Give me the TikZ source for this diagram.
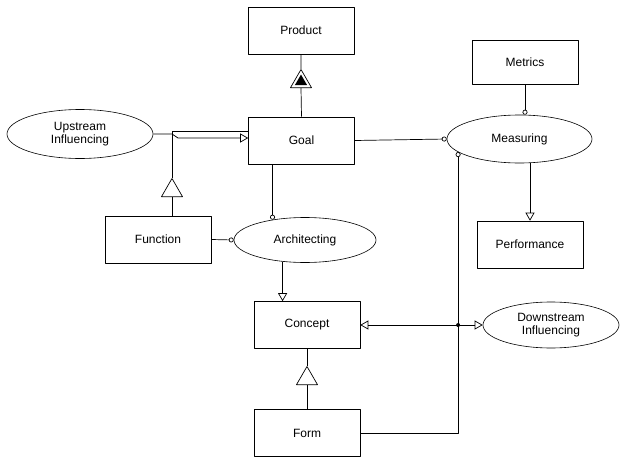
\documentclass[tikz,border=0pt]{standalone}
\usepackage{fontspec}
\setmainfont{Liberation Sans}
\usetikzlibrary{arrows.meta,shapes.geometric,calc}
\tikzset{rtip/.tip={Triangle[open, length=8pt, width=9pt]}, atip/.tip={Circle[open, length=5pt, width=5pt]}}
\begin{document}
\begin{tikzpicture}[x=1pt, y=-1pt, line join=round, line width=0.7pt, font=\fontsize{12}{13.5}\selectfont,
	thing/.style={draw, line width=0.6pt, minimum width=106pt, minimum height=47pt, inner sep=0pt},
	proc/.style={draw, line width=0.6pt, ellipse, inner sep=0pt, align=center},
	gentri/.style={draw, fill=white, isosceles triangle, isosceles triangle apex angle=60, shape border rotate=90, minimum height=18pt, minimum width=21pt, inner sep=0pt, anchor=lower side},
	result/.style={-rtip}, agent/.style={-atip}]
	\useasboundingbox (0,0) rectangle (622,458);
	\node[thing] (product) at (301,30.5) {Product};
	\node[thing] (goal) at (301.5,140.5) {Goal};
	\node[thing, minimum height=44pt] (metrics) at (525,62) {Metrics};
	\node[thing] (function) at (158,239.5) {Function};
	\node[thing] (performance) at (530,244.5) {Performance};
	\node[thing] (concept) at (307,325) {Concept};
	\node[thing] (form) at (307,433) {Form};
	\node[proc, minimum width=146pt, minimum height=49pt] (upstream) at (80,134) {Upstream\\Influencing};
	\node[proc, minimum width=145pt, minimum height=48pt] (measuring) at (519.5,139) {Measuring};
	\node[proc, minimum width=142pt, minimum height=45pt] (architecting) at (305,240) {Architecting};
	\node[proc, minimum width=136pt, minimum height=46pt] (downstream) at (551,325) {Downstream\\Influencing};
	\node[gentri] (pgtri) at (301,88) {};
	\node[gentri] (fgtri) at (172,197) {};
	\node[gentri] (cftri) at (307,385) {};
	\draw (product.south) -- (pgtri.apex) (pgtri.lower side) -- (goal.north);
	\coordinate (pgc) at ($(pgtri.apex)!2/3!(pgtri.lower side)$);
	\fill ($(pgc)!.55!(pgtri.apex)$) -- ($(pgc)!.55!(pgtri.left corner)$) -- ($(pgc)!.55!(pgtri.right corner)$) -- cycle;
	\draw (function.north -| fgtri.lower side) -- (fgtri.lower side);
	\draw (fgtri.apex) |- ($(goal.west)+(0,-9)$);
	\coordinate (uj) at (fgtri.apex |- upstream.east);
	\coordinate (uk) at ($(uj)+(6,4)$);
	\draw[result] (upstream.east) -- (uj) -- (uk) -- (uk -| goal.west);
	\draw[agent] (goal.east) -- (measuring.west);
	\draw[agent] (metrics.south) -- (metrics.south |- measuring.north);
	\draw[result] (performance.north |- measuring.south) -- (performance.north);
	\draw[agent] (goal.south -| architecting.148) -- (architecting.148);
	\draw[agent] (function.east) -- (architecting.west);
	\draw[result] (architecting.224) -- (architecting.224 |- concept.north);
	\draw (form.north) -- (cftri.lower side) (cftri.apex) -- (concept.south);
	\draw[rtip-rtip] (concept.east) -- (downstream.west);
	\draw[atip-] (measuring.192) |- (form.east);
	\fill (measuring.192 |- concept.east) circle (2pt);
\end{tikzpicture}
\end{document}
